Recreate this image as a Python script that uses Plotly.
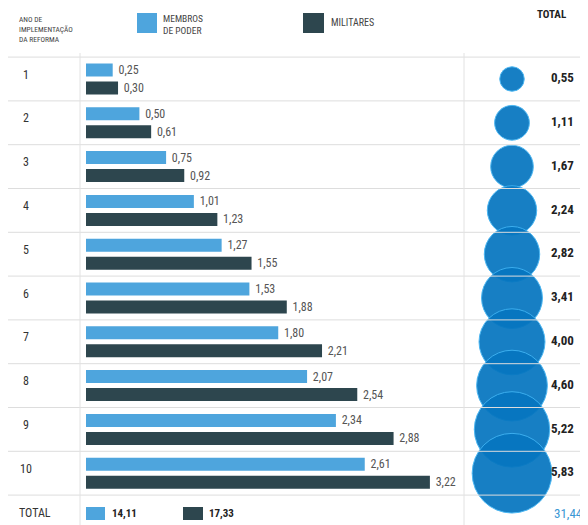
import plotly.graph_objects as go
import math

# ---- data ----
anos = list(range(1, 11))
membros = [0.25, 0.50, 0.75, 1.01, 1.27, 1.53, 1.80, 2.07, 2.34, 2.61]
militares = [0.30, 0.61, 0.92, 1.23, 1.55, 1.88, 2.21, 2.54, 2.88, 3.22]
totais = [0.55, 1.11, 1.67, 2.24, 2.82, 3.41, 4.00, 4.60, 5.22, 5.83]
total_membros = 14.11
total_militares = 17.33
total_geral = 31.44


def fmt(v):
    return f"{v:.2f}".replace(".", ",")


# ---- layout geometry (window pixels; page body has an 8px margin) ----
M = 8
W, H = 588 - M, 525 - M
X0, XS = 86 - M, 106.8      # bar origin & px per unit
Y0, YS = 79 - M, 43.8       # row-1 centre & px per row
xr = [-X0 / XS, (W - X0) / XS]
yr = [1 + (H - Y0) / YS, 1 - Y0 / YS]

def px2x(p):
    return (p - M - X0) / XS

def px2paper(p):
    return (p - M) / W

def py2paper(p):
    return 1 - (p - M) / H

FONT = "Roboto Condensed, Liberation Sans Narrow, Roboto, sans-serif"
C_LIGHT = "#4ea5dd"
C_DARK = "#2d464e"
C_BUB = "#0676c0"
C_TXT = "#555555"

off = 9 / YS
bw = 13 / YS

fig = go.Figure()
fig.add_trace(go.Bar(
    y=[a - off for a in anos], x=membros, orientation="h", width=bw,
    marker=dict(color=C_LIGHT, line=dict(width=0)),
    text=[" " + fmt(v) for v in membros], textposition="outside",
    constraintext="none", cliponaxis=False,
    textfont=dict(family=FONT, size=12, color=C_TXT), name="Membros de poder"))
fig.add_trace(go.Bar(
    y=[a + off for a in anos], x=militares, orientation="h", width=bw,
    marker=dict(color=C_DARK, line=dict(width=0)),
    text=[" " + fmt(v) for v in militares], textposition="outside",
    constraintext="none", cliponaxis=False,
    textfont=dict(family=FONT, size=12, color=C_TXT), name="Militares"))

# bubbles
bx = px2x(512)
fig.add_trace(go.Scatter(
    x=[bx] * len(anos), y=anos, mode="markers",
    marker=dict(size=[33 * math.sqrt(v) for v in totais], color=C_BUB,
                opacity=0.93, line=dict(color="#3fb2f2", width=1)),
    cliponaxis=False, hoverinfo="skip"))
fig.add_trace(go.Scatter(
    x=[px2x(551)] * len(anos), y=anos, mode="text",
    text=[f"<b>{fmt(v)}</b>" for v in totais], textposition="middle right",
    textfont=dict(family=FONT, size=13, color="#222222"), cliponaxis=False,
    hoverinfo="skip"))

shapes = []
# horizontal separators
for k in range(0, 11):
    yy = k + 0.5
    shapes.append(dict(type="line", xref="paper", yref="y", x0=0, x1=1,
                       y0=yy, y1=yy, line=dict(color="#dddddd", width=1)))
# vertical separators
for xp in (80, 464):
    shapes.append(dict(type="line", xref="paper", yref="paper",
                       x0=px2paper(xp), x1=px2paper(xp), y0=0, y1=py2paper(53),
                       line=dict(color="#e2e2e2", width=1)))

def square(x0p, y0p, x1p, y1p, color):
    shapes.append(dict(type="rect", xref="paper", yref="paper",
                       x0=px2paper(x0p), x1=px2paper(x1p),
                       y0=py2paper(y1p), y1=py2paper(y0p),
                       fillcolor=color, line=dict(width=0)))

# legend squares
square(137, 13, 157, 33, C_LIGHT)
square(303, 13, 324, 33, C_DARK)
# total row squares
square(86, 507, 105, 520, C_LIGHT)
square(183, 507, 203, 520, C_DARK)

ann = []
def txt(x, y, s, size=11, color="#333333", anchor="left", bold=False):
    if bold:
        s = f"<b>{s}</b>"
    ann.append(dict(xref="paper", yref="paper", x=px2paper(x), y=py2paper(y), text=s,
                    showarrow=False, xanchor=anchor, yanchor="middle",
                    align="left", font=dict(family=FONT, size=size, color=color)))

for a in anos:
    ann.append(dict(xref="paper", yref="y", x=px2paper(26), y=a - 0.1, text=str(a),
                    showarrow=False, xanchor="center", yanchor="middle",
                    font=dict(family=FONT, size=12, color="#333333")))

txt(17, 29, "ANO DE<br>IMPLEMENTAÇÃO<br>DA REFORMA", size=7.5, color="#444444")
txt(161, 24, "MEMBROS<br>DE PODER", size=9.5, color="#444444")
txt(329, 23, "MILITARES", size=10, color="#444444")
txt(535, 15, "TOTAL", size=11, color="#222222", bold=True)
txt(17, 513, "TOTAL", size=12, color="#333333")
txt(110, 513, fmt(total_membros), size=11, color="#222222", bold=True)
txt(207, 513, fmt(total_militares), size=11, color="#222222", bold=True)
txt(552, 513, fmt(total_geral), size=13, color="#3a97d4")

fig.update_layout(
    width=W, height=H, margin=dict(l=0, r=0, t=0, b=0),
    paper_bgcolor="white", plot_bgcolor="white",
    barmode="overlay", showlegend=False,
    xaxis=dict(range=xr, visible=False, fixedrange=True),
    yaxis=dict(range=yr, visible=False, fixedrange=True),
    shapes=shapes, annotations=ann,
)
fig.write_html("out.html")
